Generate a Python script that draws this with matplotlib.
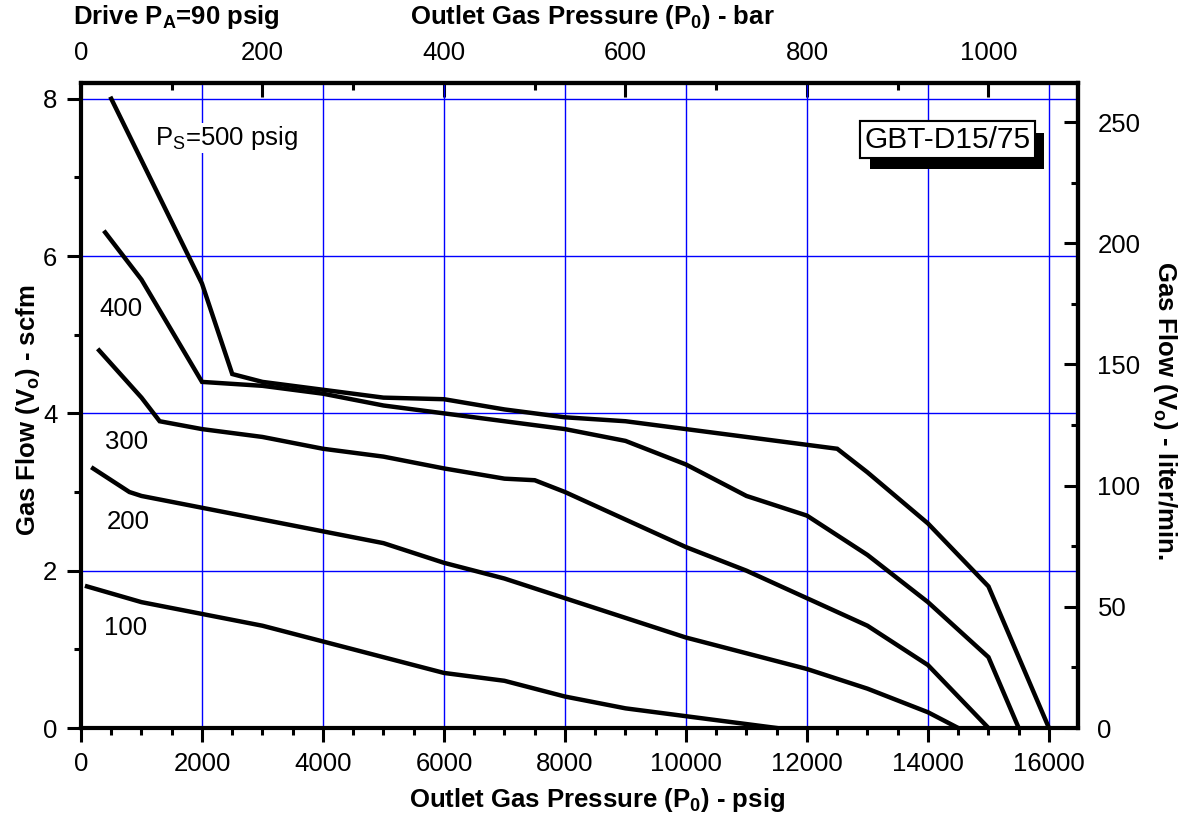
import numpy as np
import matplotlib
matplotlib.use('Agg')
import matplotlib.pyplot as plt
from matplotlib.ticker import MultipleLocator, FixedLocator
from matplotlib import patheffects

plt.rcParams['font.family'] = ['Liberation Sans', 'DejaVu Sans']
plt.rcParams['mathtext.fontset'] = 'custom'
plt.rcParams['mathtext.rm'] = 'Liberation Sans'

# outlet pressure (psig) vs gas flow (scfm) for each supply pressure
p100_x = [100, 1000, 2000, 3000, 4000, 5000, 6000, 7000, 8000, 9000, 10000, 11000, 11500]
p100_y = [1.8, 1.6, 1.45, 1.3, 1.1, 0.9, 0.7, 0.6, 0.4, 0.25, 0.15, 0.05, 0]

p200_x = [200, 800, 1000, 2000, 3000, 4000, 5000, 6000, 7000, 8000, 9000, 10000, 11000, 12000, 13000, 14000, 14500]
p200_y = [3.3, 3.0, 2.95, 2.8, 2.65, 2.5, 2.35, 2.1, 1.9, 1.65, 1.4, 1.15, 0.95, 0.75, 0.5, 0.2, 0]

p300_x = [300, 1000, 1300, 2000, 3000, 4000, 5000, 6000, 7000, 7500, 8000, 9000, 10000, 11000, 12000, 13000, 14000, 15000]
p300_y = [4.8, 4.2, 3.9, 3.8, 3.7, 3.55, 3.45, 3.3, 3.17, 3.15, 3.0, 2.65, 2.3, 2.0, 1.65, 1.3, 0.8, 0]

p400_x = [400, 1000, 2000, 3000, 4000, 5000, 6000, 7000, 8000, 9000, 10000, 11000, 12000, 13000, 14000, 15000, 15500]
p400_y = [6.3, 5.7, 4.4, 4.35, 4.25, 4.1, 4.0, 3.9, 3.8, 3.65, 3.35, 2.95, 2.7, 2.2, 1.6, 0.9, 0]

p500_x = [500, 2000, 2500, 3000, 4000, 5000, 6000, 7000, 8000, 9000, 10000, 11000, 12000, 12500, 13000, 14000, 15000, 16000]
p500_y = [8.0, 5.65, 4.5, 4.4, 4.3, 4.2, 4.18, 4.05, 3.95, 3.9, 3.8, 3.7, 3.6, 3.55, 3.25, 2.6, 1.8, 0]

curve_labels = ['100', '200', '300', '400']
label_pos = [(730, 1.27), (780, 2.62), (745, 3.63), (660, 5.33)]

PSI_PER_BAR = 15.0
LPM_PER_SCFM = 32.45


def main():
    fig = plt.figure(figsize=(12, 8.25), dpi=100)
    ax = fig.add_axes([81/1200, 97/825, 997/1200, 645/825])

    ax.set_xlim(0, 16480)
    ax.set_ylim(0, 8.2)

    ax.grid(True, which='major', color='#0000ff', linewidth=1.0, zorder=1)
    ax.set_axisbelow(True)

    for xs, ys in [(p100_x, p100_y), (p200_x, p200_y), (p300_x, p300_y),
                   (p400_x, p400_y), (p500_x, p500_y)]:
        ax.plot(xs, ys, color='black', linewidth=3.2, zorder=3, solid_joinstyle='miter')

    for lab, (lx, ly) in zip(curve_labels, label_pos):
        ax.text(lx, ly, lab, fontsize=18.5, ha='center', va='center', zorder=4)

    ax.text(1220, 7.5, r'P$_\mathregular{S}$=500 psig', fontsize=18.5, ha='left', va='center',
            zorder=4, bbox=dict(facecolor='white', edgecolor='none', pad=1))

    box = ax.text(12950, 7.48, 'GBT-D15/75', fontsize=21.5, ha='left', va='center', zorder=5,
                  bbox=dict(facecolor='white', edgecolor='black', linewidth=1.5, pad=3))
    box.get_bbox_patch().set_path_effects([
        patheffects.withSimplePatchShadow(offset=(7, -8), shadow_rgbFace='black', alpha=1.0),
        patheffects.Normal()])

    # bottom / left axes
    ax.xaxis.set_major_locator(FixedLocator(np.arange(0, 16001, 2000)))
    ax.xaxis.set_minor_locator(MultipleLocator(500))
    ax.yaxis.set_major_locator(FixedLocator([0, 2, 4, 6, 8]))
    ax.yaxis.set_minor_locator(MultipleLocator(1))
    ax.tick_params(axis='both', which='major', direction='out', length=10, width=2.2,
                   labelsize=18.5, pad=7)
    ax.tick_params(axis='both', which='minor', direction='out', length=5, width=2.2)
    for sp in ax.spines.values():
        sp.set_linewidth(3)

    # top axis in bar
    top = ax.secondary_xaxis('top', functions=(lambda x: x / PSI_PER_BAR,
                                               lambda b: b * PSI_PER_BAR))
    top.xaxis.set_major_locator(FixedLocator(np.arange(0, 1001, 200)))
    top.xaxis.set_minor_locator(FixedLocator(np.arange(100, 1101, 200)))
    top.tick_params(which='major', direction='in', length=10, width=2.2, labelsize=18.5, pad=13)
    top.tick_params(which='minor', direction='in', length=5, width=2.2)
    top.spines['top'].set_linewidth(3)

    # right axis in liter/min
    right = ax.secondary_yaxis('right', functions=(lambda y: y * LPM_PER_SCFM,
                                                   lambda l: l / LPM_PER_SCFM))
    right.yaxis.set_major_locator(FixedLocator(np.arange(0, 251, 50)))
    right.yaxis.set_minor_locator(FixedLocator(np.arange(25, 251, 50)))
    right.tick_params(which='major', direction='in', length=10, width=2.2, labelsize=18.5, pad=14)
    right.tick_params(which='minor', direction='in', length=5, width=2.2)
    right.spines['right'].set_linewidth(3)

    # axis titles placed in figure pixels to follow the reference layout
    title_kw = dict(fontsize=18.5, fontweight='bold', ha='center', va='center')
    fig.text(597/1200, 1 - 800/825, r'Outlet Gas Pressure (P$_\mathregular{0}$) - psig', **title_kw)
    fig.text(592/1200, 1 - 17/825, r'Outlet Gas Pressure (P$_\mathregular{0}$) - bar', **title_kw)
    fig.text(28/1200, 1 - 410/825, r'Gas Flow (V$_\mathregular{o}$) - scfm', rotation=90, **title_kw)
    fig.text(1165/1200, 1 - 410/825, r'Gas Flow (V$_\mathregular{o}$) - liter/min.',
             rotation=270, **title_kw)
    fig.text(73/1200, 1 - 17/825, r'Drive P$_\mathregular{A}$=90 psig',
             fontsize=18.5, fontweight='bold', ha='left', va='center')

    fig.savefig('out.png', dpi=100)
    plt.close(fig)


if __name__ == '__main__':
    main()
